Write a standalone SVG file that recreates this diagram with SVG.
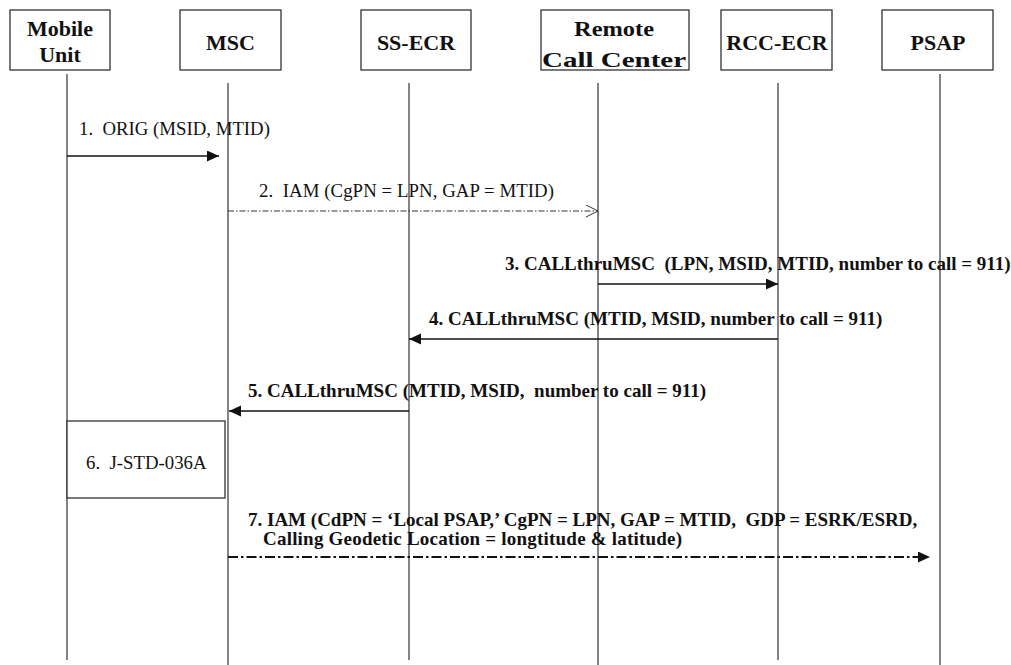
<svg xmlns="http://www.w3.org/2000/svg" width="1011" height="665" viewBox="0 0 1011 665">
<style>
.box{fill:#fff;stroke:#333;stroke-width:1.3}
.life{stroke:#333;stroke-width:1.2;fill:none}
.hd{font-family:"Liberation Serif","Times New Roman",serif;font-weight:bold;font-size:22px;fill:#111;text-anchor:middle}
.t{font-family:"Liberation Serif","Times New Roman",serif;font-size:18.8px;fill:#111;white-space:pre}
.b{font-family:"Liberation Serif","Times New Roman",serif;font-size:19px;font-weight:bold;fill:#111;white-space:pre}
.msg{stroke:#111;stroke-width:1.3;fill:none}
.dd{stroke:#333;stroke-width:1;fill:none;stroke-dasharray:6 2 1.5 2}
.dd2{stroke:#111;stroke-width:2;fill:none;stroke-dasharray:10 3 2.5 3}
</style>
<defs>
<marker id="fill" markerUnits="userSpaceOnUse" markerWidth="13" markerHeight="12" refX="12" refY="5.5" orient="auto"><path d="M0,0 L12,5.5 L0,11 z" fill="#111"/></marker>
<marker id="open" markerUnits="userSpaceOnUse" markerWidth="14" markerHeight="14" refX="12.5" refY="6.5" orient="auto"><path d="M0.5,0.5 L12.5,6.5 L0.5,12.5" fill="none" stroke="#333" stroke-width="1"/></marker>
</defs>
<rect width="1011" height="665" fill="#fff"/>
<g id="lifelines">
<line class="life" x1="67" y1="74" x2="67" y2="660"/>
<line class="life" x1="228" y1="83" x2="228" y2="665"/>
<line class="life" x1="409" y1="83" x2="409" y2="660"/>
<line class="life" x1="598" y1="83" x2="598" y2="665"/>
<line class="life" x1="778" y1="83" x2="778" y2="660"/>
<line class="life" x1="940" y1="74" x2="940" y2="665"/>
</g>
<g id="mobile"><rect class="box" x="10" y="10" width="100" height="60"/><text class="hd" x="60" y="36">Mobile</text><text class="hd" x="60" y="62">Unit</text></g>
<g id="msc"><rect class="box" x="180" y="10" width="101" height="60"/><text class="hd" x="230.5" y="50">MSC</text></g>
<g id="ssecr"><rect class="box" x="361" y="10" width="110" height="60"/><text class="hd" x="416" y="50" font-size="23">SS-ECR</text></g>
<g id="rcc"><rect class="box" x="541" y="10" width="148" height="60"/><text class="hd" x="614" y="36" font-size="25" textLength="80" lengthAdjust="spacingAndGlyphs">Remote</text><text class="hd" x="614" y="67" font-size="26" textLength="144" lengthAdjust="spacingAndGlyphs">Call Center</text></g>
<g id="rccecr"><rect class="box" x="721" y="10" width="111" height="60"/><text class="hd" x="777" y="50">RCC-ECR</text></g>
<g id="psap"><rect class="box" x="882" y="10" width="111" height="60"/><text class="hd" x="938" y="50">PSAP</text></g>
<g id="step6"><rect class="box" x="67" y="421" width="158" height="77"/><text class="t" x="86" y="469">6.  J-STD-036A</text></g>
<g id="connectors">
<line class="msg" x1="67" y1="156" x2="219" y2="156" marker-end="url(#fill)"/>
<line class="dd" x1="228" y1="211" x2="598" y2="211" marker-end="url(#open)"/>
<line class="msg" x1="598" y1="284" x2="778" y2="284" marker-end="url(#fill)"/>
<line class="msg" x1="778" y1="339" x2="409" y2="339" marker-end="url(#fill)"/>
<line class="msg" x1="409" y1="411" x2="229" y2="411" marker-end="url(#fill)"/>
<line class="dd2" x1="228" y1="557" x2="930" y2="557" marker-end="url(#fill)"/>
</g>
<g id="labels">
<text class="t" x="79" y="135">1.  ORIG (MSID, MTID)</text>
<text class="t" x="259" y="197" textLength="295">2.  IAM (CgPN = LPN, GAP = MTID)</text>
<text class="b" x="505" y="270">3. CALLthruMSC  (LPN, MSID, MTID, number to call = 911)</text>
<text class="b" x="429" y="325">4. CALLthruMSC (MTID, MSID, number to call = 911)</text>
<text class="b" x="248" y="397">5. CALLthruMSC (MTID, MSID,  number to call = 911)</text>
<text class="b" x="248" y="526">7. IAM (CdPN = ‘Local PSAP,’ CgPN = LPN, GAP = MTID,  GDP = ESRK/ESRD,</text>
<text class="b" x="263" y="545" textLength="419">Calling Geodetic Location = longtitude &amp; latitude)</text>
</g>
</svg>
